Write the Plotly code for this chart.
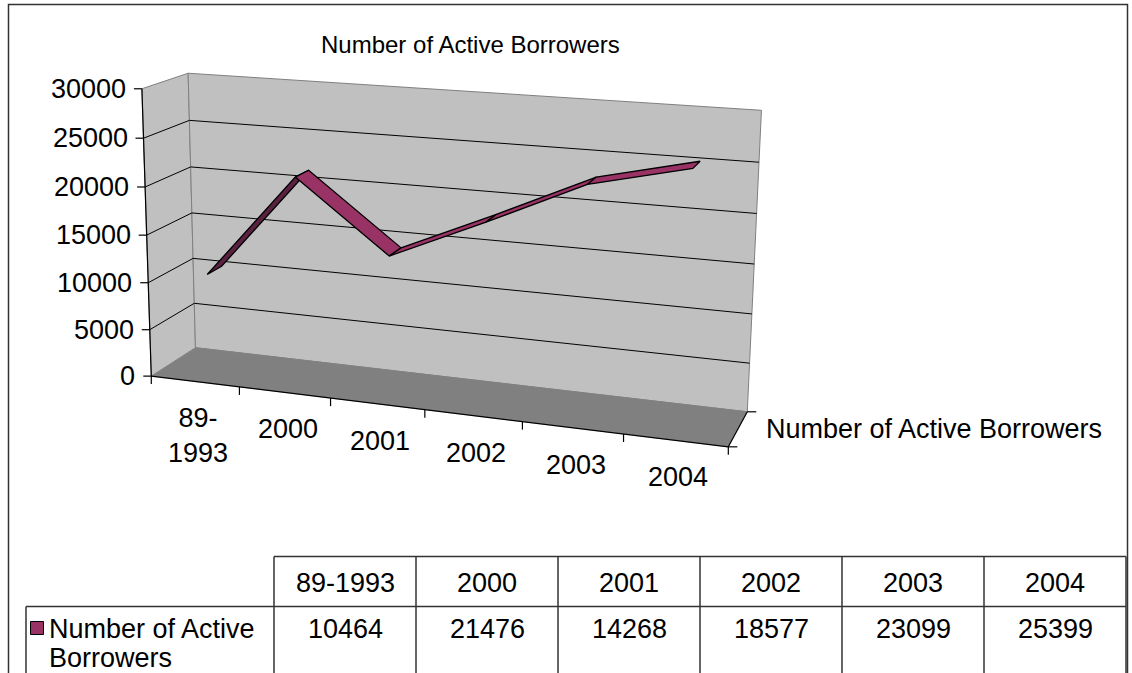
import numpy as np
import plotly.graph_objects as go

# ---- data -------------------------------------------------------------
categories = ["89-1993", "2000", "2001", "2002", "2003", "2004"]
category_labels = ["89-<br>1993", "2000", "2001", "2002", "2003", "2004"]
borrowers = [10464, 21476, 14268, 18577, 23099, 25399]
series_name = "Number of Active Borrowers"
chart_title = "Number of Active Borrowers"
y_ticks = [0, 5000, 10000, 15000, 20000, 25000, 30000]
Y_MAX = 30000

# ---- page / style -----------------------------------------------------
W, H = 1132, 673
FONT = "Liberation Sans, Arial, sans-serif"
FS = 27
TITLE_FS = 24
WALL = "#c0c0c0"
FLOOR = "#808080"
EDGE = "#808080"
RIBBON_TOP = "#993366"
RIBBON_UNDER = "#5a2141"
RIBBON_DEPTH = (1 / 3, 2 / 3)

# camera calibration of the 3-D plot box:
# (category position, value fraction, depth) -> pixel position
VIEW_ANCHORS = [
    ((0, 0, 0), (151.5, 375.5)),
    ((0, 1, 0), (142.0, 89.5)),
    ((0, 0, 1), (195.0, 349.0)),
    ((0, 1, 1), (188.0, 74.0)),
    ((6, 0, 1), (747.5, 410.0)),
    ((6, 1, 1), (761.0, 111.0)),
    ((6, 0, 0), (728.0, 448.0)),
    ((1, 0, 0), (240.0, 386.7)),
    ((2, 0, 0), (331.0, 398.0)),
    ((3, 0, 0), (425.0, 410.0)),
    ((4, 0, 0), (522.0, 422.0)),
    ((5, 0, 0), (623.0, 434.8)),
    ((0, 0.5, 0), (146.5, 235.0)),
    ((0, 5 / 6, 0), (143.5, 138.0)),
    ((0, 2 / 3, 0), (145.0, 185.0)),
    ((0, 0.5, 1), (192.5, 213.0)),
    ((0, 2 / 3, 1), (190.0, 166.7)),
    ((6, 5 / 6, 1), (760.0, 161.7)),
    ((6, 1 / 6, 1), (749.5, 362.7)),
]


def fit_camera(anchors, s=1000.0):
    rows = []
    for (X, Y, Z), (u, v) in anchors:
        u, v = u / s, v / s
        rows.append([X, Y, Z, 1, 0, 0, 0, 0, -u * X, -u * Y, -u * Z, -u])
        rows.append([0, 0, 0, 0, X, Y, Z, 1, -v * X, -v * Y, -v * Z, -v])
    _, _, vt = np.linalg.svd(np.asarray(rows, float))
    P = vt[-1].reshape(3, 4)
    return np.diag([s, s, 1.0]) @ P


CAM = fit_camera(VIEW_ANCHORS)


def proj(cat, value, depth):
    p = CAM @ np.array([cat, value / Y_MAX, depth, 1.0])
    return p[0] / p[2], p[1] / p[2]


n = len(categories)
fig = go.Figure()


def poly(pts, fill, line_color=None, width=1.0):
    xs = [p[0] for p in pts] + [pts[0][0]]
    ys = [p[1] for p in pts] + [pts[0][1]]
    fig.add_trace(go.Scatter(
        x=xs, y=ys, mode="lines", fill="toself", fillcolor=fill,
        line=dict(color=line_color or fill, width=width if line_color else 0.5),
        hoverinfo="skip", showlegend=False))


def segs(pairs, color, width=1.0):
    xs, ys = [], []
    for a, b in pairs:
        xs += [a[0], b[0], None]
        ys += [a[1], b[1], None]
    fig.add_trace(go.Scatter(x=xs, y=ys, mode="lines",
                             line=dict(color=color, width=width),
                             hoverinfo="skip", showlegend=False))


# walls and floor
poly([proj(0, 0, 0), proj(n, 0, 0), proj(n, 0, 1), proj(0, 0, 1)], FLOOR)
poly([proj(0, 0, 0), proj(0, Y_MAX, 0), proj(0, Y_MAX, 1), proj(0, 0, 1)], WALL, EDGE, 1)
poly([proj(0, 0, 1), proj(n, 0, 1), proj(n, Y_MAX, 1), proj(0, Y_MAX, 1)], WALL, EDGE, 1)

# gridlines
grid = []
for t in y_ticks[1:-1]:
    grid.append((proj(0, t, 0), proj(0, t, 1)))
    grid.append((proj(0, t, 1), proj(n, t, 1)))
segs(grid, "#000000", 1)

# floor edges
segs([(proj(0, 0, 1), proj(n, 0, 1))], EDGE, 1)
segs([(proj(0, 0, 0), proj(n, 0, 0)), (proj(n, 0, 0), proj(n, 0, 1))], "#000000", 1.2)

# value axis with ticks
ax = [(proj(0, 0, 0), proj(0, Y_MAX, 0))]
for t in y_ticks:
    x0, y0 = proj(0, t, 0)
    ax.append(((x0 - 8, y0), (x0, y0)))
segs(ax, "#000000", 1.2)

# category and depth ticks
ticks = []
for i in range(n + 1):
    x0, y0 = proj(i, 0, 0)
    ticks.append(((x0, y0), (x0, y0 + 8)))
for d in (0, 1):
    x0, y0 = proj(n, 0, d)
    ticks.append(((x0, y0), (x0 + 9, y0)))
segs(ticks, "#000000", 1.2)

# the series ribbon
z0, z1 = RIBBON_DEPTH
for i in range(n - 1):
    a = proj(i + 0.5, borrowers[i], z0)
    b = proj(i + 1.5, borrowers[i + 1], z0)
    c = proj(i + 1.5, borrowers[i + 1], z1)
    d = proj(i + 0.5, borrowers[i], z1)
    quad = [a, b, c, d]
    area = sum(quad[k][0] * quad[(k + 1) % 4][1] - quad[(k + 1) % 4][0] * quad[k][1]
               for k in range(4))
    poly(quad, RIBBON_TOP if area < 0 else RIBBON_UNDER, "#000000", 1.3)

ann = []


def text(x, y, s, xa="center", ya="middle", size=FS):
    ann.append(dict(x=x, y=y, xref="x", yref="y", text=s, showarrow=False,
                    xanchor=xa, yanchor=ya, align="center" if xa == "center" else xa,
                    font=dict(family=FONT, size=size, color="#000000")))


text(470, 44, chart_title, size=TITLE_FS)
for t in y_ticks:
    x0, y0 = proj(0, t, 0)
    text(x0 - 14, y0, f"{t}", xa="right")
for i, lab in enumerate(category_labels):
    x0, y0 = proj(i + 0.5, 0, 0)
    text(x0 + 3, y0 + 20, lab, ya="top")
xs_, ys_ = proj(n, 0, 0.5)
text(xs_ + 26, ys_, series_name, xa="left")

# data table
TABLE_COLS = [274, 416, 558, 700, 842, 984, 1126]
TABLE_LEFT = 26
HEAD_TOP, ROW_TOP, BOTTOM = 556.5, 606.5, 700
shapes = [
    dict(type="rect", xref="x", yref="y", x0=8.5, y0=4.5, x1=1127.5, y1=720,
         line=dict(color="#333333", width=1.5)),
    dict(type="line", xref="x", yref="y", x0=TABLE_COLS[0], x1=TABLE_COLS[-1],
         y0=HEAD_TOP, y1=HEAD_TOP, line=dict(color="#333333", width=1.5)),
    dict(type="line", xref="x", yref="y", x0=TABLE_LEFT, x1=TABLE_COLS[-1],
         y0=ROW_TOP, y1=ROW_TOP, line=dict(color="#333333", width=1.5)),
    dict(type="line", xref="x", yref="y", x0=TABLE_LEFT, x1=TABLE_LEFT,
         y0=ROW_TOP, y1=BOTTOM, line=dict(color="#333333", width=1.5)),
]
for cx in TABLE_COLS:
    shapes.append(dict(type="line", xref="x", yref="y", x0=cx, x1=cx, y0=HEAD_TOP,
                       y1=BOTTOM, line=dict(color="#333333", width=1.5)))
shapes.append(dict(type="rect", xref="x", yref="y", x0=30.5, x1=43.5, y0=621.5, y1=634.5,
                   fillcolor=RIBBON_TOP, line=dict(color="#000000", width=1)))

for k, cat in enumerate(categories):
    cx = (TABLE_COLS[k] + TABLE_COLS[k + 1]) / 2
    text(cx, 583, cat)
    text(cx, 629, f"{borrowers[k]}")
text(47, 629, "Number of Active", xa="left")
text(47, 658, "Borrowers", xa="left")

fig.update_layout(
    width=W, height=H, margin=dict(l=0, r=0, t=0, b=0),
    paper_bgcolor="#ffffff", plot_bgcolor="#ffffff",
    xaxis=dict(range=[0, W], visible=False, fixedrange=True),
    yaxis=dict(range=[H, 0], visible=False, fixedrange=True),
    annotations=ann, shapes=shapes, showlegend=False, hovermode=False,
)
fig.write_html("out.html")
